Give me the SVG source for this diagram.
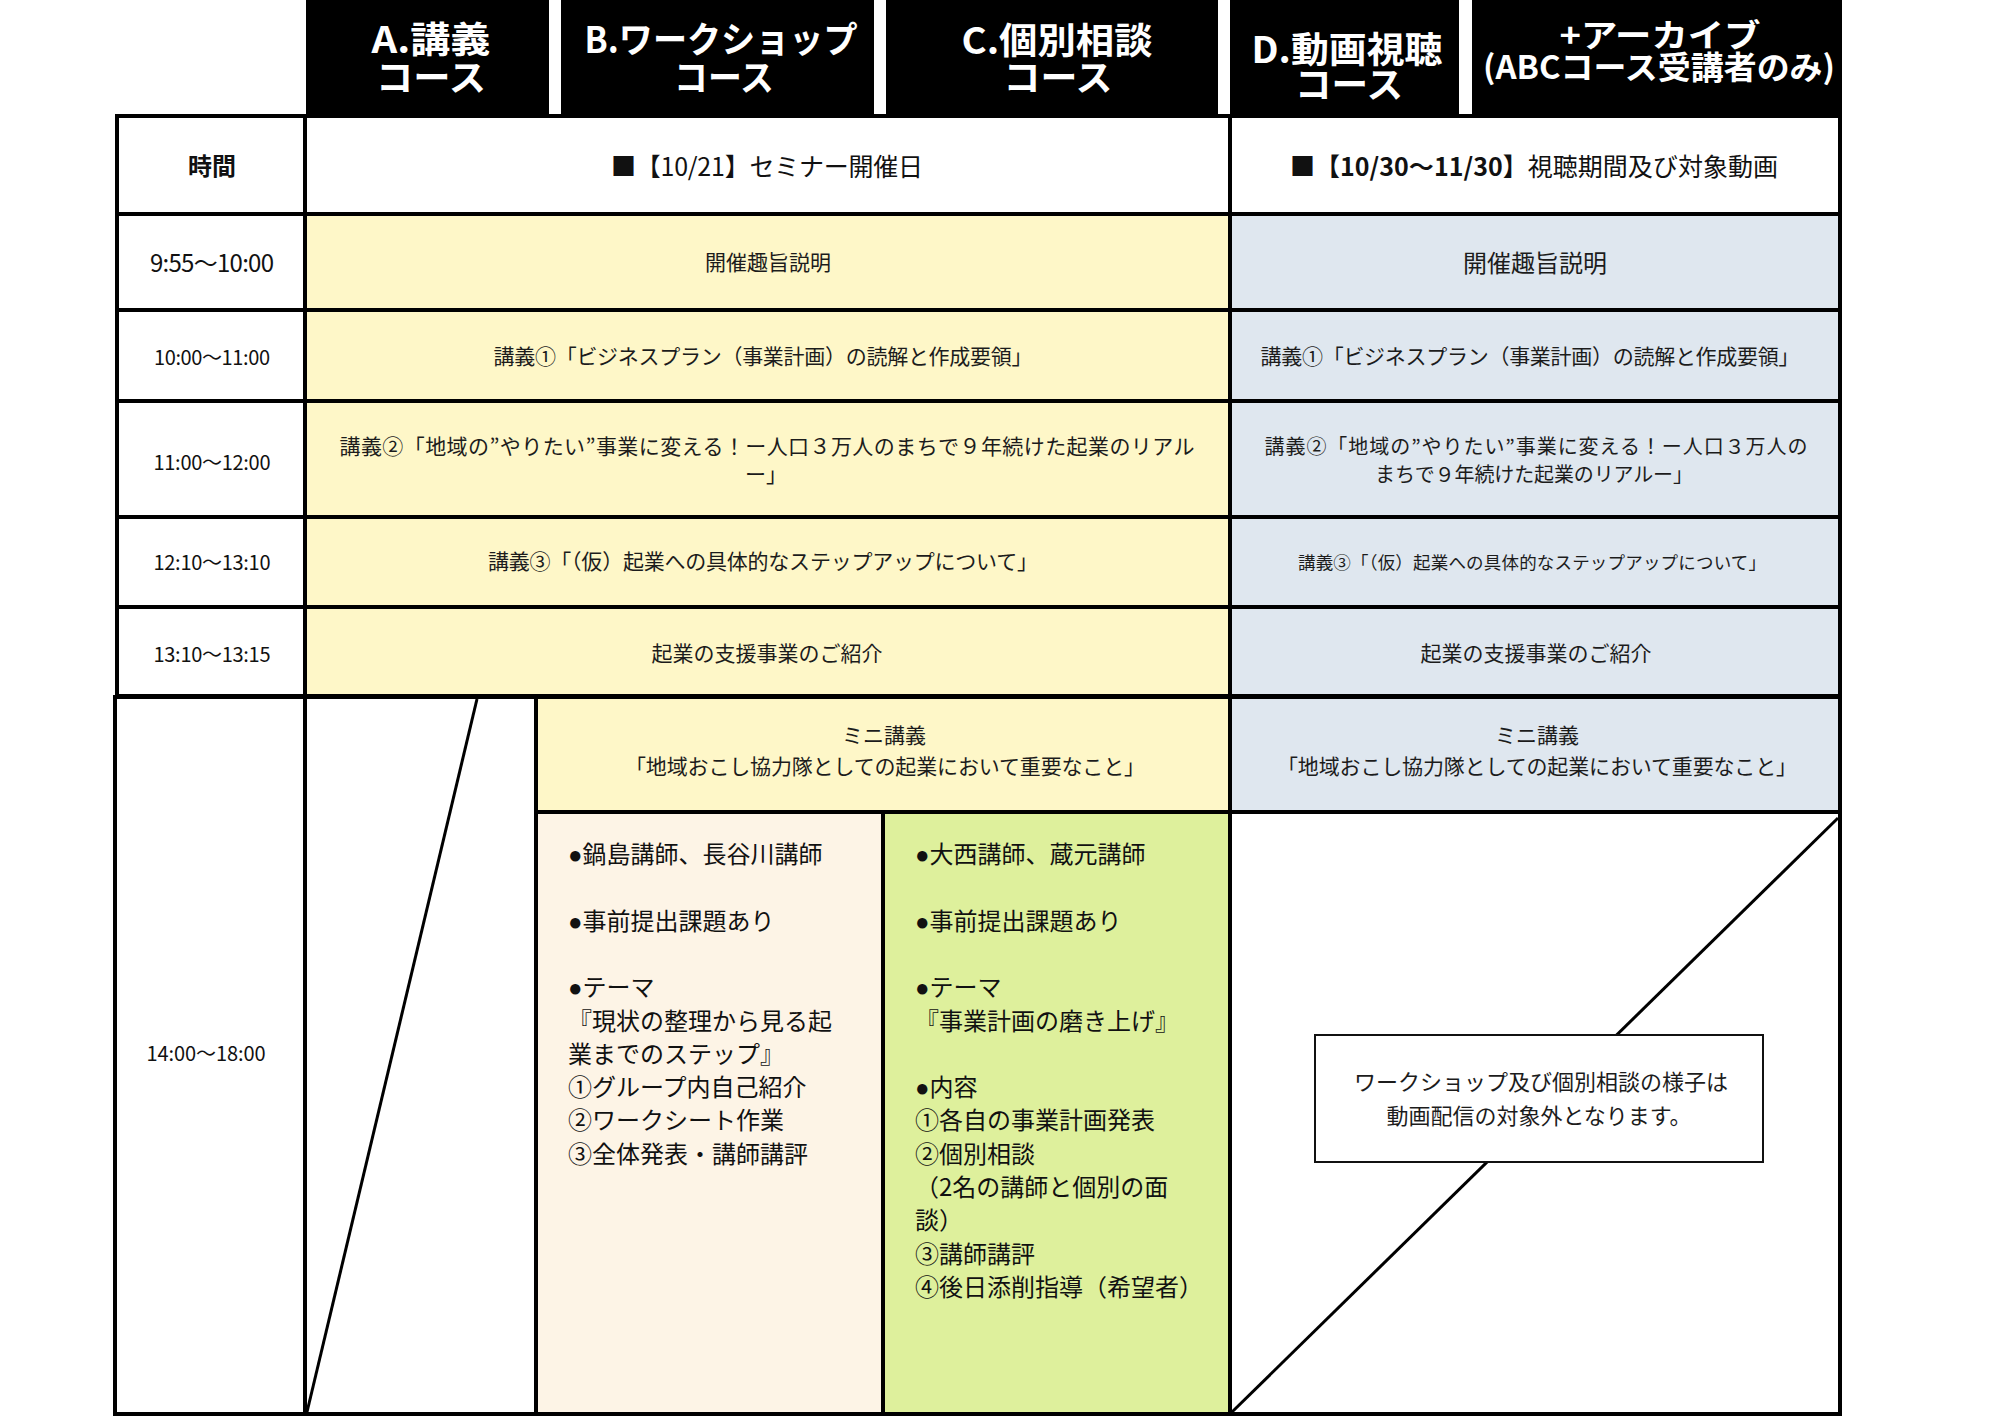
<svg xmlns="http://www.w3.org/2000/svg" width="2000" height="1428" viewBox="0 0 2000 1428">
<defs>
<style>
text{font-family:"Noto Sans CJK JP","Noto Sans CJK SC",sans-serif;fill:#1c1c1c}
.hd{font-size:36px;font-weight:700;fill:#fff;text-anchor:middle}
.hs{font-size:32px}
.c{text-anchor:middle}
.r{font-size:21px}
.tm{font-size:20px;fill:#111;text-anchor:middle}
.b{font-size:24px;fill:#111}
.bul{font-family:"Liberation Sans","DejaVu Sans",sans-serif}
.tile{fill:#000}
.grid{stroke:#000;stroke-width:4;fill:none}
.diag{stroke:#000;stroke-width:3;fill:none}
.yel{fill:#FEF7C8}
.blu{fill:#DFE7EF}
.crm{fill:#FDF4E6}
.grn{fill:#DEF09C}
</style>
</defs>
<rect width="2000" height="1428" fill="#fff"/>

<g id="header">
  <g id="hA">
    <rect class="tile" x="306" y="0" width="243" height="117"/>
    <text class="hd"><tspan x="431" y="53" textLength="119" lengthAdjust="spacingAndGlyphs">A.講義</tspan><tspan x="431" y="91" textLength="110" lengthAdjust="spacingAndGlyphs">コース</tspan></text>
  </g>
  <g id="hB">
    <rect class="tile" x="561" y="0" width="313" height="117"/>
    <text class="hd"><tspan x="721" y="53" textLength="273" lengthAdjust="spacingAndGlyphs">B.ワークショップ</tspan><tspan x="724" y="91" textLength="100" lengthAdjust="spacingAndGlyphs">コース</tspan></text>
  </g>
  <g id="hC">
    <rect class="tile" x="886" y="0" width="332" height="117"/>
    <text class="hd"><tspan x="1057" y="54" textLength="191" lengthAdjust="spacingAndGlyphs">C.個別相談</tspan><tspan x="1058" y="91" textLength="109" lengthAdjust="spacingAndGlyphs">コース</tspan></text>
  </g>
  <g id="hD">
    <rect class="tile" x="1230" y="0" width="229" height="117"/>
    <text class="hd"><tspan x="1347" y="63" textLength="191" lengthAdjust="spacingAndGlyphs">D.動画視聴</tspan><tspan x="1349" y="98" textLength="108" lengthAdjust="spacingAndGlyphs">コース</tspan></text>
  </g>
  <g id="hE">
    <rect class="tile" x="1472" y="0" width="370" height="117"/>
    <text class="hd hs"><tspan x="1660" y="47" textLength="201" lengthAdjust="spacingAndGlyphs">+アーカイブ</tspan><tspan x="1659" y="79" textLength="352" lengthAdjust="spacingAndGlyphs">(ABCコース受講者のみ)</tspan></text>
  </g>
</g>

<g id="fills">
  <rect class="yel" x="305" y="214" width="925" height="482"/>
  <rect class="blu" x="1230" y="214" width="610" height="482"/>
  <rect class="yel" x="536" y="696" width="694" height="116"/>
  <rect class="blu" x="1230" y="696" width="610" height="116"/>
  <rect class="crm" x="536" y="812" width="347" height="602"/>
  <rect class="grn" x="883" y="812" width="347" height="602"/>
</g>

<g id="row-head">
  <text x="212" y="175" class="c" style="font-size:24px;font-weight:700;fill:#111">時間</text>
  <text x="767" y="176" class="c" style="font-size:25px;fill:#111" textLength="312">■【10/21】セミナー開催日</text>
  <text x="1534" y="176" class="c" style="font-size:25px;fill:#111" textLength="488"><tspan font-weight="700">■【10/30〜11/30】</tspan>視聴期間及び対象動画</text>
</g>

<g id="row1">
  <text class="tm" x="212" y="272" style="font-size:24px" textLength="124">9:55〜10:00</text>
  <text class="r c" x="768" y="270">開催趣旨説明</text>
  <text class="c" x="1535" y="272" style="font-size:24px">開催趣旨説明</text>
</g>

<g id="row2">
  <text class="tm" x="212" y="365" textLength="116">10:00〜11:00</text>
  <text class="r c" x="763" y="364" textLength="539">講義①「ビジネスプラン（事業計画）の読解と作成要領」</text>
  <text class="r c" x="1530" y="364" textLength="539">講義①「ビジネスプラン（事業計画）の読解と作成要領」</text>
</g>

<g id="row3">
  <text class="tm" x="212" y="470" textLength="117">11:00〜12:00</text>
  <text class="r c" x="767" y="454" textLength="855">講義②「地域の”やりたい”事業に変える！ー人口３万人のまちで９年続けた起業のリアル</text>
  <text class="r c" x="766" y="482">ー」</text>
  <text class="c" x="1536" y="454" style="font-size:20px" textLength="543">講義②「地域の”やりたい”事業に変える！ー人口３万人の</text>
  <text class="c" x="1534" y="482" style="font-size:20px" textLength="318">まちで９年続けた起業のリアルー」</text>
</g>

<g id="row4">
  <text class="tm" x="212" y="570" textLength="117">12:10〜13:10</text>
  <text class="r c" x="763" y="569" textLength="550">講義③「（仮）起業への具体的なステップアップについて」</text>
  <text class="c" x="1532" y="569" style="font-size:17.5px" textLength="468">講義③「（仮）起業への具体的なステップアップについて」</text>
</g>

<g id="row5">
  <text class="tm" x="212" y="662" textLength="117">13:10〜13:15</text>
  <text class="r c" x="767" y="661">起業の支援事業のご紹介</text>
  <text class="r c" x="1536" y="661">起業の支援事業のご紹介</text>
</g>

<g id="row6-time">
  <text class="tm" x="206" y="1061" textLength="119">14:00〜18:00</text>
</g>

<g id="mini-bc">
  <text class="r c" x="884" y="743">ミニ講義</text>
  <text class="r c" x="885" y="774" textLength="520">「地域おこし協力隊としての起業において重要なこと」</text>
</g>

<g id="mini-d">
  <text class="r c" x="1537" y="743">ミニ講義</text>
  <text class="r c" x="1537" y="774" textLength="520">「地域おこし協力隊としての起業において重要なこと」</text>
</g>

<g id="workshop-b">
  <text class="b" x="568" y="863"><tspan class="bul">●</tspan>鍋島講師、長谷川講師</text>
  <text class="b" x="568" y="929.6"><tspan class="bul">●</tspan>事前提出課題あり</text>
  <text class="b" x="568" y="996.2"><tspan class="bul">●</tspan>テーマ</text>
  <text class="b" x="568" y="1029.5">『現状の整理から見る起</text>
  <text class="b" x="568" y="1062.8">業までのステップ』</text>
  <text class="b" x="568" y="1096.1">①グループ内自己紹介</text>
  <text class="b" x="568" y="1129.4">②ワークシート作業</text>
  <text class="b" x="568" y="1162.7">③全体発表・講師講評</text>
</g>

<g id="consult-c">
  <text class="b" x="915" y="863"><tspan class="bul">●</tspan>大西講師、蔵元講師</text>
  <text class="b" x="915" y="929.6"><tspan class="bul">●</tspan>事前提出課題あり</text>
  <text class="b" x="915" y="996.2"><tspan class="bul">●</tspan>テーマ</text>
  <text class="b" x="915" y="1029.5">『事業計画の磨き上げ』</text>
  <text class="b" x="915" y="1096.1"><tspan class="bul">●</tspan>内容</text>
  <text class="b" x="915" y="1129.4">①各自の事業計画発表</text>
  <text class="b" x="915" y="1162.7">②個別相談</text>
  <text class="b" x="915" y="1196">（2名の講師と個別の面</text>
  <text class="b" x="915" y="1229.3">談）</text>
  <text class="b" x="915" y="1262.6">③講師講評</text>
  <text class="b" x="915" y="1295.9">④後日添削指導（希望者）</text>
</g>

<g id="grid">
  <rect class="grid" x="117" y="116" width="1723" height="580"/>
  <line class="grid" x1="117" y1="214" x2="1840" y2="214"/>
  <line class="grid" x1="117" y1="310" x2="1840" y2="310"/>
  <line class="grid" x1="117" y1="401" x2="1840" y2="401"/>
  <line class="grid" x1="117" y1="517" x2="1840" y2="517"/>
  <line class="grid" x1="117" y1="607" x2="1840" y2="607"/>
  <line class="grid" x1="305" y1="116" x2="305" y2="696"/>
  <rect class="grid" x="115" y="697" width="1725" height="717"/>
  <line class="grid" x1="305" y1="697" x2="305" y2="1414"/>
  <line class="grid" x1="536" y1="697" x2="536" y2="1414"/>
  <line class="grid" x1="1230" y1="116" x2="1230" y2="1414"/>
  <line class="grid" x1="536" y1="812" x2="1840" y2="812"/>
  <line class="grid" x1="883" y1="812" x2="883" y2="1414"/>
</g>

<g id="connectors">
  <line class="diag" x1="477" y1="699" x2="307" y2="1412"/>
  <line class="diag" x1="1838" y1="818" x2="1232" y2="1412"/>
</g>

<g id="note">
  <rect x="1315" y="1035" width="448" height="127" fill="#fff" stroke="#111" stroke-width="2"/>
  <text class="c" style="font-size:22px"><tspan x="1541" y="1090">ワークショップ及び個別相談の様子は</tspan><tspan x="1539" y="1124">動画配信の対象外となります。</tspan></text>
</g>
</svg>
